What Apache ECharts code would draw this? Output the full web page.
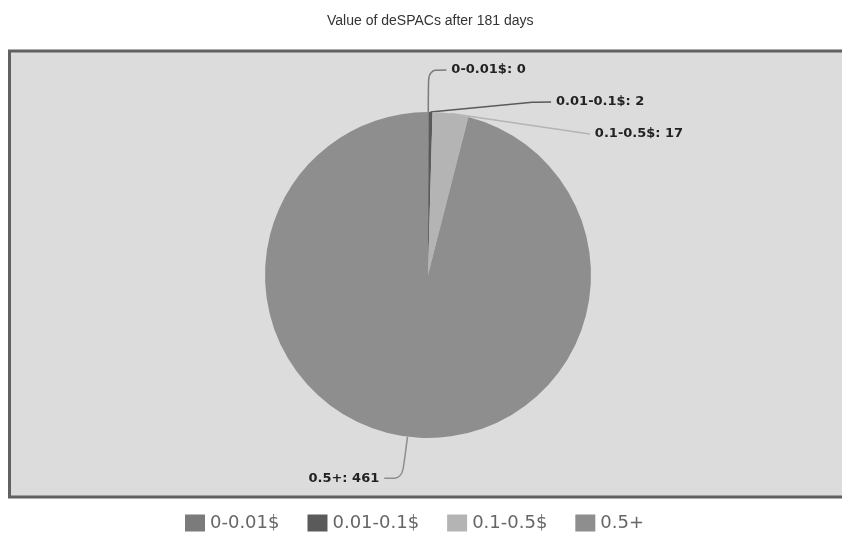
<!DOCTYPE html>
<html>
<head>
<meta charset="utf-8">
<title>Value of deSPACs after 181 days</title>
<script src="https://cdn.jsdelivr.net/npm/echarts@6/dist/echarts.min.js"></script>
<style>
  html, body { margin: 0; padding: 0; background: #ffffff; }
  #chart { width: 842px; height: 544px; }
</style>
</head>
<body>
<div id="chart"></div>
<script>
// Price buckets of deSPAC shares and how many companies fall in each
const categories = ['0-0.01$', '0.01-0.1$', '0.1-0.5$', '0.5+'];
const counts = [0, 2, 17, 461];
const sliceColors = ['#7b7b7b', '#5a5a5a', '#b4b4b4', '#8e8e8e'];
const titleText = 'Value of deSPACs after 181 days';

const chart = echarts.init(document.getElementById('chart'), null, { renderer: 'canvas' });

const pieData = categories.map((name, i) => ({
  name: name,
  value: counts[i],
  itemStyle: { color: sliceColors[i] }
}));

chart.setOption({
  animation: false,
  backgroundColor: '#ffffff',
  title: {
    text: titleText,
    left: 322,
    top: 9,
    textStyle: {
      fontFamily: 'Liberation Sans',
      fontSize: 14,
      fontWeight: 'normal',
      color: '#333333'
    }
  },
  graphic: [{
    type: 'rect',
    z: -10,
    silent: true,
    shape: { x: 9.5, y: 51, width: 850, height: 446 },
    style: { fill: '#dcdcdc', stroke: '#616161', lineWidth: 3 }
  }],
  legend: {
    data: categories,
    left: 185,
    top: 514,
    padding: 0,
    icon: 'rect',
    itemWidth: 20,
    itemHeight: 17,
    itemGap: 28,
    textStyle: {
      fontFamily: 'DejaVu Sans',
      fontSize: 18,
      color: '#666666'
    }
  },
  series: [{
    type: 'pie',
    center: [428, 275],
    radius: 163,
    // a hair below 90 so the empty first bucket sits on the right-hand side
    startAngle: 89.9,
    clockwise: true,
    avoidLabelOverlap: true,
    data: pieData,
    label: {
      show: true,
      position: 'outside',
      formatter: '{b}: {c}',
      fontFamily: 'DejaVu Sans',
      fontWeight: 'bold',
      fontSize: 13,
      color: '#222222',
      lineHeight: 30
    },
    labelLine: {
      show: true,
      length: 42,
      length2: 18,
      smooth: 0.3,
      lineStyle: { width: 1.5 }
    },
    emphasis: { disabled: true }
  }]
});
</script>
</body>
</html>
